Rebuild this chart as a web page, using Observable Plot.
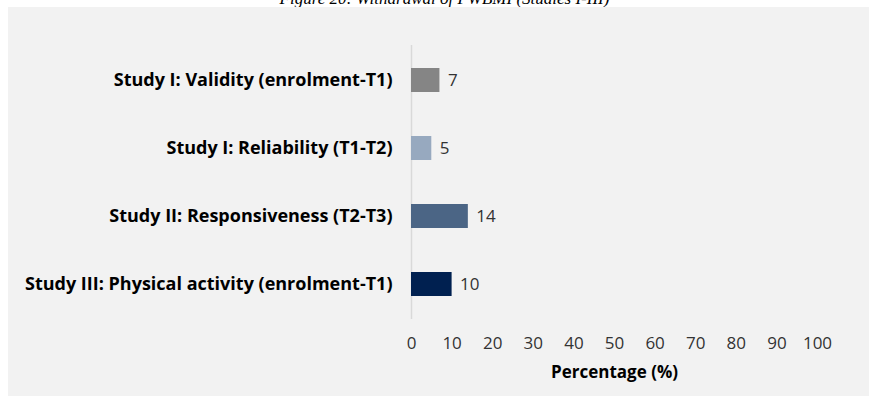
<!DOCTYPE html>
<html>
<head>
<meta charset="utf-8">
<script src="https://cdn.jsdelivr.net/npm/d3@7"></script>
<script src="https://cdn.jsdelivr.net/npm/@observablehq/plot@0.6"></script>
<style>
  html, body { margin: 0; padding: 0; background: #ffffff; }
  body { position: relative; width: 869px; height: 396px; overflow: hidden; }
  #title {
    position: absolute; left: 10px; top: -11px; width: 869px;
    text-align: center; font: italic 17px/20px "Liberation Serif", serif; color: #000;
  }
  #panel { position: absolute; left: 8px; top: 7px; width: 861px; height: 389px; background: #f2f2f2; }
</style>
</head>
<body>
<div id="title">Figure 20: Withdrawal of PWBMI (Studies I-III)</div>
<div id="panel"></div>
<script>
// Withdrawal per study phase, in percent
const categories = [
  "Study I: Validity (enrolment-T1)",
  "Study I: Reliability (T1-T2)",
  "Study II: Responsiveness (T2-T3)",
  "Study III: Physical activity (enrolment-T1)"
];
const values = [7, 5, 14, 10];
const barColors = ["#858585", "#97a9bf", "#4b6585", "#002050"];
const xTicks = [0, 10, 20, 30, 40, 50, 60, 70, 80, 90, 100];
const xLabel = "Percentage (%)";

const rows = categories.map((category, i) => ({category, value: values[i], color: barColors[i]}));

const font = "'Open Sans', sans-serif";

const chart = Plot.plot({
  width: 861,
  height: 389,
  marginLeft: 403,
  marginRight: 52,
  marginTop: 38,
  marginBottom: 77,
  style: {background: "#f2f2f2", fontFamily: font, fontSize: "17px", color: "#404040", overflow: "visible"},
  x: {domain: [0, 100], ticks: xTicks},
  y: {domain: categories, paddingInner: 0.65, paddingOuter: 0.325},
  color: {type: "identity"},
  marks: [
    Plot.ruleX([0], {stroke: "#d9d9d9", strokeWidth: 1.5}),
    Plot.barX(rows, {x: "value", y: "category", fill: "color"}),
    Plot.text(rows, {x: "value", y: "category", text: d => String(d.value), textAnchor: "start", dx: 8, fill: "#333", fontSize: 17}),
    Plot.axisY({tickSize: 0, tickPadding: 19, label: null, fontWeight: "bold", fill: "#000", fontSize: 18}),
    Plot.axisX({ticks: xTicks, tickSize: 0, tickPadding: 17, tickFormat: d => String(d), fill: "#333", fontSize: 17, label: null}),
    Plot.text([xLabel], {frameAnchor: "bottom", dy: 53, lineAnchor: "middle", text: d => d, fontWeight: "bold", fill: "#000", fontSize: 17})
  ]
});
document.getElementById("panel").appendChild(chart);
</script>
</body>
</html>
